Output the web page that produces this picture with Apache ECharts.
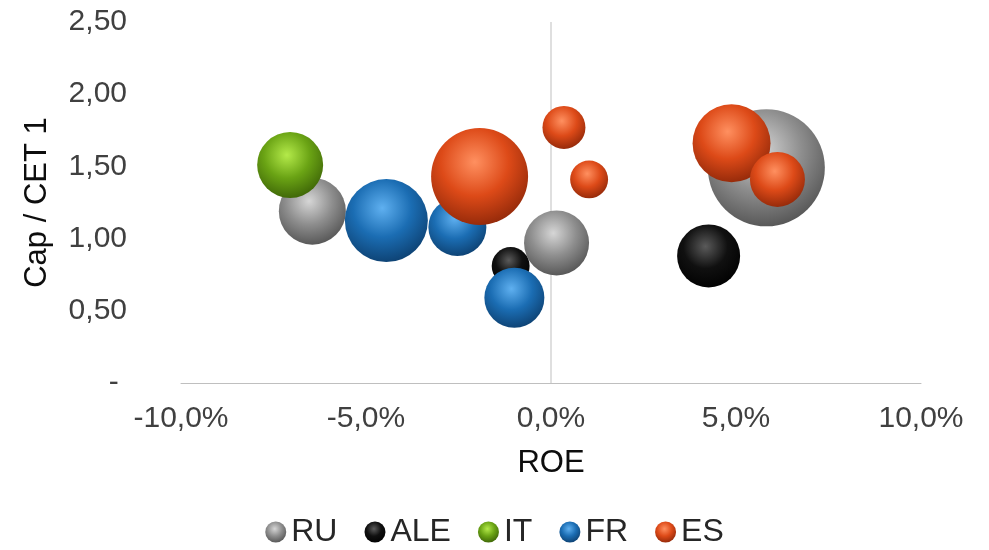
<!DOCTYPE html>
<html>
<head>
<meta charset="utf-8">
<script src="https://cdn.jsdelivr.net/npm/echarts@6/dist/echarts.min.js"></script>
<style>
  html, body { margin: 0; padding: 0; background: #ffffff; }
  #chart { width: 989px; height: 550px; }
</style>
</head>
<body>
<div id="chart"></div>
<script>
// Series names, in legend order
const countries = ['RU', 'ALE', 'IT', 'FR', 'ES'];

// ROE (%), Cap / CET 1 ratio, and bubble size for each bank
const ruRoe  = [-6.45, 0.15, 5.82];
const ruCap  = [1.19, 0.97, 1.49];
const ruSize = [32.8, 30.9, 100];

const aleRoe  = [-1.09, 4.26];
const aleCap  = [0.81, 0.88];
const aleSize = [10.5, 29.0];

const itRoe  = [-7.05];
const itCap  = [1.51];
const itSize = [31.8];

const frRoe  = [-4.45, -2.53, -0.99];
const frCap  = [1.125, 1.08, 0.59];
const frSize = [50.3, 24.6, 26.3];

const esRoe  = [-1.93, 0.35, 1.03, 4.88, 6.12];
const esCap  = [1.43, 1.77, 1.41, 1.66, 1.41];
const esSize = [68.7, 13.5, 10.5, 44.4, 22.1];

// Axis ticks
const xTicks = [-10, -5, 0, 5, 10];
const yTicks = [0, 0.5, 1, 1.5, 2, 2.5];

// Sphere shading per series: highlight, body, rim
const shades = {
  RU:  ['#d6d6d6', '#8e8e8e', '#505050'],
  ALE: ['#5a5a5a', '#101010', '#000000'],
  IT:  ['#b4ea4a', '#6aa314', '#3a6006'],
  FR:  ['#5fb0f0', '#1b6db3', '#0c3d6c'],
  ES:  ['#ff9060', '#dd4a18', '#8c2608']
};

function sphere(c) {
  return {
    type: 'radial', x: 0.45, y: 0.35, r: 0.7,
    colorStops: [
      { offset: 0, color: c[0] },
      { offset: 0.5, color: c[1] },
      { offset: 1, color: c[2] }
    ]
  };
}

const seriesData = {
  RU:  [ruRoe, ruCap, ruSize],
  ALE: [aleRoe, aleCap, aleSize],
  IT:  [itRoe, itCap, itSize],
  FR:  [frRoe, frCap, frSize],
  ES:  [esRoe, esCap, esSize]
};

const maxSize = 100;
const maxDiameter = 117;

const fontFamily = '"Liberation Sans", Arial, sans-serif';

const bubbleSeries = countries.map(name => {
  const [xs, ys, ss] = seriesData[name];
  return {
    name: name,
    type: 'scatter',
    symbol: 'circle',
    z: 3,
    symbolSize: v => maxDiameter * Math.sqrt(v[2] / maxSize),
    data: xs.map((x, i) => [x, ys[i], ss[i]]),
    itemStyle: { color: sphere(shades[name]), opacity: 1 },
    emphasis: { disabled: true },
    animation: false
  };
});

// Vertical axis line at ROE = 0, behind the bubbles
const zeroLine = {
  type: 'line',
  z: 1,
  silent: true,
  symbol: 'none',
  data: [[0, yTicks[0]], [0, yTicks[yTicks.length - 1]]],
  lineStyle: { color: '#bfbfbf', width: 1 },
  emphasis: { disabled: true },
  animation: false
};

const chart = echarts.init(document.getElementById('chart'), null, { renderer: 'canvas' });

chart.setOption({
  backgroundColor: '#ffffff',
  animation: false,
  textStyle: { fontFamily: fontFamily },
  grid: { left: 181, right: 68, top: 22, bottom: 167 },
  legend: {
    data: countries,
    top: 511,
    left: 'center',
    icon: 'circle',
    itemWidth: 21,
    itemHeight: 21,
    itemGap: 27,
    textStyle: { fontSize: 32, color: '#262626', fontFamily: fontFamily }
  },
  xAxis: {
    type: 'value',
    min: xTicks[0],
    max: xTicks[xTicks.length - 1],
    interval: 5,
    name: 'ROE',
    nameLocation: 'middle',
    nameGap: 65,
    nameTextStyle: { fontSize: 31, color: '#0d0d0d', fontFamily: fontFamily },
    axisLine: { show: true, lineStyle: { color: '#bfbfbf', width: 1 } },
    axisTick: { show: false },
    splitLine: { show: false },
    axisLabel: {
      margin: 21,
      fontSize: 30,
      color: '#404040',
      fontFamily: fontFamily,
      formatter: v => v.toFixed(1).replace('.', ',') + '%'
    }
  },
  yAxis: {
    type: 'value',
    min: yTicks[0],
    max: yTicks[yTicks.length - 1],
    interval: 0.5,
    name: 'Cap / CET 1',
    nameLocation: 'middle',
    nameGap: 128,
    nameTextStyle: { fontSize: 31, color: '#0d0d0d', fontFamily: fontFamily },
    axisLine: { show: false },
    axisTick: { show: false },
    splitLine: { show: false },
    axisLabel: {
      margin: 54,
      fontSize: 30,
      color: '#404040',
      fontFamily: fontFamily,
      formatter: v => v === 0 ? '- ' : v.toFixed(2).replace('.', ',')
    }
  },
  series: [zeroLine].concat(bubbleSeries)
});
</script>
</body>
</html>
